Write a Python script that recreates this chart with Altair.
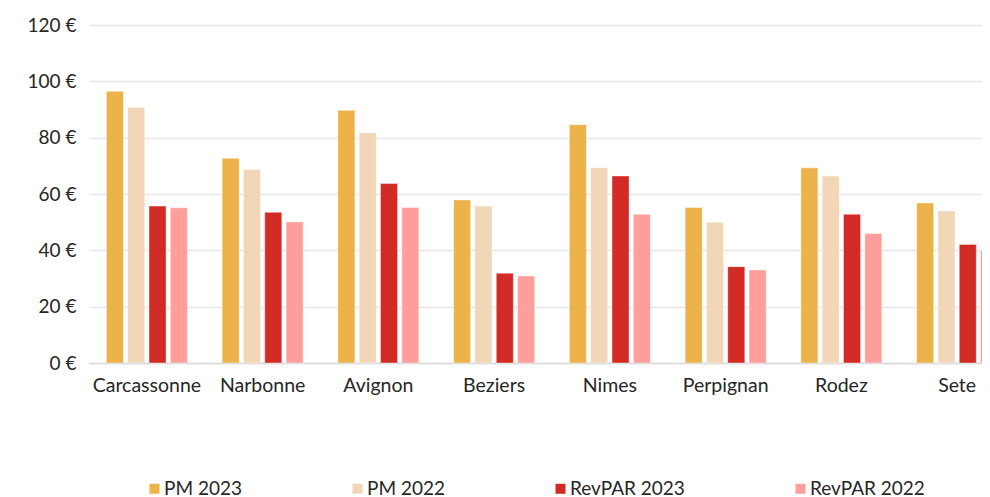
import altair as alt
import pandas as pd

cities = ["Carcassonne", "Narbonne", "Avignon", "Beziers", "Nimes", "Perpignan", "Rodez", "Sete"]
series = ["PM 2023", "PM 2022", "RevPAR 2023", "RevPAR 2022"]
pm_2023 = [96.5, 72.7, 89.7, 57.9, 84.6, 55.2, 69.3, 56.8]
pm_2022 = [90.7, 68.7, 81.7, 55.7, 69.3, 50.0, 66.4, 54.0]
revpar_2023 = [55.7, 53.5, 63.7, 31.9, 66.4, 34.2, 52.8, 42.1]
revpar_2022 = [55.1, 50.1, 55.2, 30.9, 52.8, 33.0, 46.0, 40.0]
colors = ["#EBB34A", "#F1D7B7", "#D22B25", "#FF9E9A"]
y_ticks = [0, 20, 40, 60, 80, 100, 120]

rows = []
for name, vals in zip(series, [pm_2023, pm_2022, revpar_2023, revpar_2022]):
    for c, v in zip(cities, vals):
        rows.append({"city": c, "series": name, "value": v})
df = pd.DataFrame(rows)

FONT = "Lato"

chart = alt.Chart(df).mark_bar(stroke="white", strokeWidth=0.6, strokeOpacity=0.7).encode(
    x=alt.X(
        "city:N",
        sort=cities,
        scale=alt.Scale(range=[0, 926], paddingInner=0.3, paddingOuter=0.15),
        axis=alt.Axis(
            title=None, labelAngle=0, ticks=False, domainColor="#D9D9D9", domainWidth=1.5,
            labelFontSize=19.5, labelPadding=13, labelColor="#262626", labelFont=FONT,
        ),
    ),
    xOffset=alt.XOffset("series:N", sort=series, scale=alt.Scale(paddingInner=0.2)),
    y=alt.Y(
        "value:Q",
        scale=alt.Scale(domain=[0, 120]),
        axis=alt.Axis(
            title=None, values=y_ticks, labelExpr="datum.value + ' €'", domain=False, ticks=False,
            gridColor="#E6E6E6", gridWidth=1.5, labelFontSize=19, labelPadding=13,
            labelColor="#262626", labelFont=FONT,
        ),
    ),
    color=alt.Color(
        "series:N",
        sort=series,
        scale=alt.Scale(domain=series, range=colors),
        legend=alt.Legend(
            title=None, orient="none", legendX=56, legendY=454, direction="horizontal",
            columnPadding=106, symbolType="square", symbolSize=100, symbolStrokeWidth=0,
            labelFontSize=19, labelFont=FONT, labelColor="#262626", labelOffset=0,
        ),
    ),
).properties(
    width=893,
    height=338,
    padding={"left": 81, "top": 17, "right": 0, "bottom": 134},
    autosize=alt.AutoSizeParams(type="none"),
).configure_view(stroke=None)

chart.save("out.html", embed_options={"renderer": "svg", "actions": False})
